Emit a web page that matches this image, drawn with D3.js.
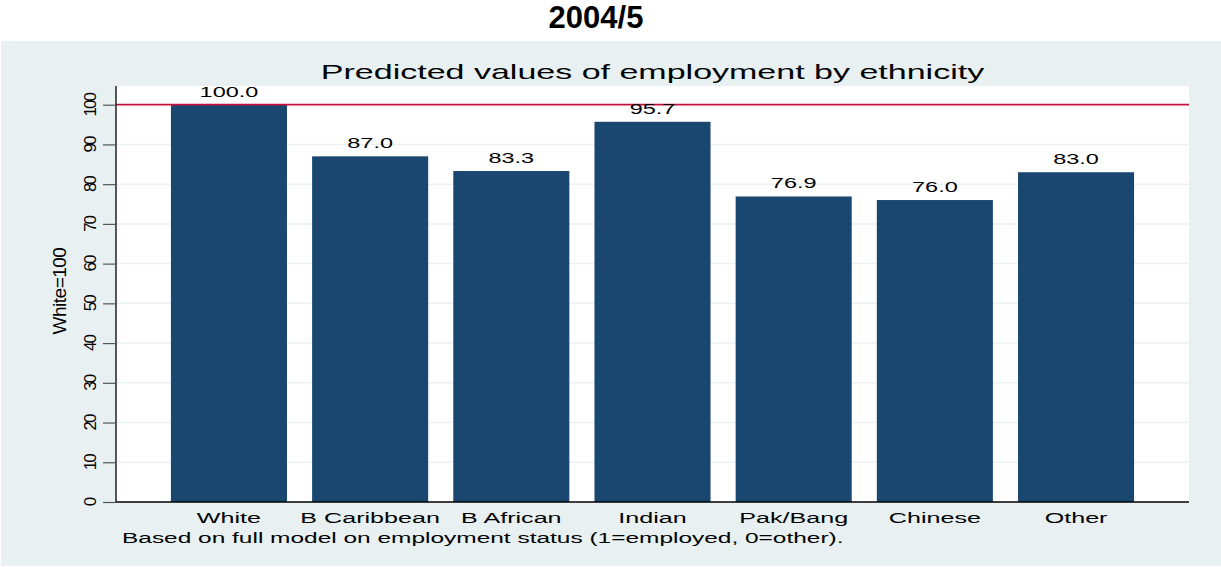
<!DOCTYPE html>
<html>
<head>
<meta charset="utf-8">
<script src="https://cdn.jsdelivr.net/npm/d3@7"></script>
<style>
  html, body { margin: 0; padding: 0; background: #ffffff; }
  svg { display: block; }
  text { font-family: "Liberation Sans", Arial, sans-serif; fill: #000; }
</style>
</head>
<body>
<svg id="chart" width="1221" height="567"></svg>
<script>
// ---- data ----
const categories = ["White", "B Caribbean", "B African", "Indian", "Pak/Bang", "Chinese", "Other"];
const values = [100.0, 87.0, 83.3, 95.7, 76.9, 76.0, 83.0];
const yTicks = [0, 10, 20, 30, 40, 50, 60, 70, 80, 90, 100];
const referenceValue = [100];
const pageTitle = "2004/5";
const chartTitle = "Predicted values of employment by ethnicity";
const yTitle = "White=100";
const note = "Based on full model on employment status (1=employed, 0=other).";

// ---- layout ----
const W = 1221, H = 567;
const plot = { left: 116, right: 1189, top: 86, bottom: 502 };
const SX = 1.62; // horizontal stretch of the original graph text

const svg = d3.select("#chart");

// outer grey panel
svg.append("rect").attr("x", 1).attr("y", 41).attr("width", W - 1).attr("height", 525)
  .attr("fill", "#e8f0f2");

// page title
svg.append("text").attr("x", 596).attr("y", 28).attr("text-anchor", "middle")
  .attr("font-size", 31).attr("font-weight", "bold").text(pageTitle);

// plot region
svg.append("rect").attr("x", plot.left).attr("y", plot.top)
  .attr("width", plot.right - plot.left).attr("height", plot.bottom - plot.top)
  .attr("fill", "#ffffff");

const x = d3.scaleBand().domain(categories).range([plot.left, plot.right])
  .paddingInner(0.178).paddingOuter(0.389);
const y = d3.scaleLinear().domain([0, 100]).range([plot.bottom, plot.top + 18.7]);

// gridlines
svg.append("g").selectAll("line").data(yTicks.filter(t => t > 0 && t < 100)).join("line")
  .attr("x1", plot.left).attr("x2", plot.right)
  .attr("y1", d => y(d)).attr("y2", d => y(d))
  .attr("stroke", "#eaf2f3").attr("stroke-width", 1.5);

// bars
svg.append("g").selectAll("rect").data(values).join("rect")
  .attr("x", (d, i) => x(categories[i]))
  .attr("width", x.bandwidth())
  .attr("y", d => y(d))
  .attr("height", d => y(0) - y(d))
  .attr("fill", "#1a476f");

// reference line
svg.append("g").selectAll("line").data(referenceValue).join("line")
  .attr("x1", plot.left).attr("x2", plot.right)
  .attr("y1", d => y(d)).attr("y2", d => y(d))
  .attr("stroke", "#c4113f").attr("stroke-width", 1.7);

// value labels
svg.append("g").selectAll("text").data(values).join("text")
  .attr("text-anchor", "middle").attr("font-size", 14.5)
  .attr("transform", (d, i) => `translate(${x(categories[i]) + x.bandwidth() / 2},${y(d) - 8}) scale(${SX},1)`)
  .text(d => d.toFixed(1));

// y axis
const yAxis = d3.axisLeft(y).tickValues(yTicks).tickSize(13).tickPadding(6).tickFormat(d3.format("d"));
const gy = svg.append("g").attr("transform", `translate(${plot.left},0)`).call(yAxis);
gy.select(".domain").attr("stroke", "#000").attr("stroke-width", 1.3)
  .attr("d", `M0,${plot.top}V${plot.bottom}`);
gy.selectAll(".tick line").attr("stroke", "#555").attr("stroke-width", 1.2);
gy.selectAll(".tick text")
  .attr("x", null).attr("dy", null)
  .attr("font-size", 17).attr("letter-spacing", -2)
  .attr("font-family", "Liberation Sans, Arial, sans-serif")
  .attr("text-anchor", "middle").attr("fill", "#000")
  .attr("transform", "translate(-20,0) rotate(-90)");

// x axis
const xAxis = d3.axisBottom(x).tickSize(0).tickPadding(0);
const gx = svg.append("g").attr("transform", `translate(0,${plot.bottom})`).call(xAxis);
gx.select(".domain").attr("stroke", "#000").attr("stroke-width", 1.3)
  .attr("d", `M${plot.left},0H${plot.right}`);
gx.selectAll(".tick text")
  .attr("y", null).attr("dy", null)
  .attr("font-size", 15.5).attr("font-family", "Liberation Sans, Arial, sans-serif").attr("fill", "#000")
  .attr("transform", `translate(0,21) scale(${SX},1)`);

// chart title
svg.append("text").attr("text-anchor", "middle").attr("font-size", 21)
  .attr("transform", `translate(${(plot.left + plot.right) / 2},79) scale(${SX},1)`)
  .text(chartTitle);

// y axis title
svg.append("text").attr("text-anchor", "middle").attr("font-size", 19).attr("letter-spacing", -0.5)
  .attr("transform", `translate(66,${(plot.top + plot.bottom) / 2 - 3}) rotate(-90)`)
  .text(yTitle);

// note
svg.append("text").attr("font-size", 15.1)
  .attr("transform", `translate(122,543) scale(${SX},1)`)
  .text(note);
</script>
</body>
</html>
